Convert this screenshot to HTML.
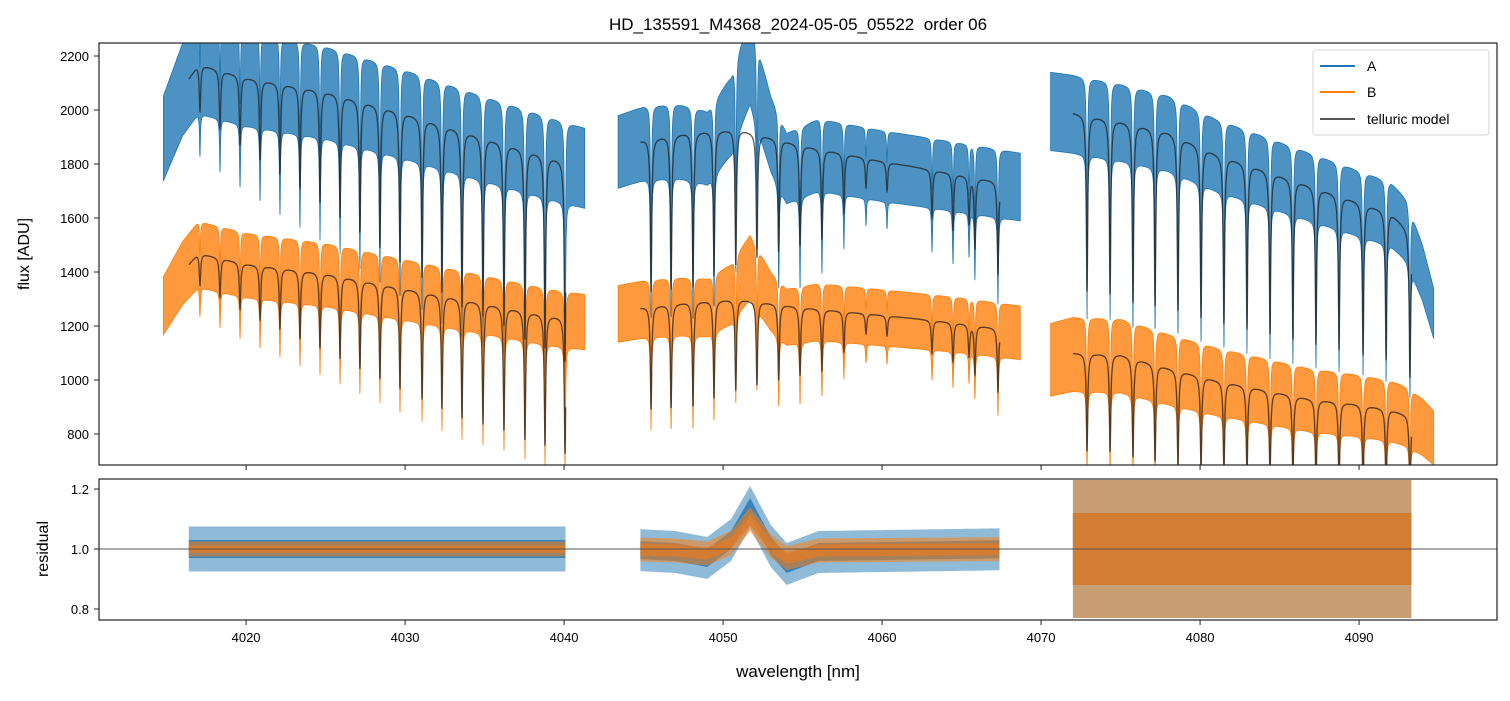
<!DOCTYPE html>
<html><head><meta charset="utf-8"><style>
body{margin:0;background:#fff;}
svg text{font-family:"Liberation Sans","DejaVu Sans",sans-serif;fill:#000;white-space:pre;}
</style></head><body>
<svg id="chart" width="1510" height="696" viewBox="0 0 1510 696" xmlns="http://www.w3.org/2000/svg">
<defs>
<clipPath id="clipTop"><rect x="99" y="43" width="1398" height="422"/></clipPath>
<clipPath id="clipBot"><rect x="99" y="479" width="1398" height="141"/></clipPath>
</defs>
<text x="798" y="30" font-size="17" text-anchor="middle" xml:space="preserve">HD_135591_M4368_2024-05-05_05522  order 06</text>
<g id="topPlot" clip-path="url(#clipTop)"></g>
<g id="botPlot" clip-path="url(#clipBot)"></g>
<g id="axesG"></g>
<text transform="translate(29,254) rotate(-90)" font-size="16" text-anchor="middle">flux [ADU]</text>
<text transform="translate(48,549) rotate(-90)" font-size="16" text-anchor="middle">residual</text>
<text x="798" y="677" font-size="17" text-anchor="middle">wavelength [nm]</text>
<g>
<rect x="1313" y="50" width="176" height="85" rx="3" fill="#fff" fill-opacity="0.8" stroke="#d6d6d6"/>
<line x1="1320" y1="66" x2="1355" y2="66" stroke="#1f77b4" stroke-width="2"/>
<text x="1367" y="71" font-size="14">A</text>
<line x1="1320" y1="92" x2="1355" y2="92" stroke="#ff7f0e" stroke-width="2"/>
<text x="1367" y="97" font-size="14">B</text>
<line x1="1320" y1="119" x2="1355" y2="119" stroke="#555" stroke-width="2"/>
<text x="1367" y="124" font-size="14">telluric model</text>
</g>
</svg>
<script>
// ---- data ----
const segData = [[4014.8,4041.3],[4043.4,4068.7],[4070.6,4094.7]];
const segModel = [[4016.4,4040.1],[4044.8,4067.4],[4072.0,4093.3]];
const contW = [
 [4014.8,4016,4017,4020,4025,4030,4035,4039,4041.3],
 [4043.4,4045,4048,4051,4055,4060,4065,4068.7],
 [4070.6,4072,4075,4078,4081,4084,4087,4090,4092,4093,4094,4094.7]];
const contA = [
 [1900,2080,2170,2120,2070,1990,1900,1830,1790],
 [1850,1890,1920,1930,1870,1810,1760,1720],
 [2000,1990,1960,1920,1840,1780,1720,1660,1620,1560,1400,1250]];
const contB = [
 [1280,1400,1470,1430,1395,1340,1285,1240,1220],
 [1250,1270,1290,1300,1270,1240,1210,1180],
 [1080,1100,1095,1045,1000,965,930,910,890,870,830,790]];
const noiseA = [0.08,0.07,0.07];
const noiseB = [0.08,0.08,0.12];
const lineW = [4017.1,4018.36,4019.62,4020.88,4022.13,4023.39,4024.65,4025.91,4027.16,4028.42,4029.68,4031.07,4032.32,4033.58,4034.9,4036.22,4037.54,4038.8,4040.06,
 4045.47,4046.73,4048.11,4049.43,4050.8,4052.13,4053.5,4054.84,4056.22,4057.6,4058.99,4060.31,4063.14,4064.46,4065.47,4065.84,4067.29,
 4072.89,4074.34,4075.78,4077.17,4078.61,4080.06,4081.5,4082.95,4084.4,4085.84,4087.29,4088.74,4090.25,4091.7,4093.2];
const lineD = [0.08,0.1,0.12,0.14,0.16,0.18,0.2,0.22,0.24,0.26,0.28,0.3,0.32,0.34,0.35,0.36,0.38,0.39,0.41,
 0.3,0.3,0.3,0.28,0.26,0.24,0.22,0.2,0.18,0.12,0.06,0.06,0.1,0.12,0.1,0.15,0.2,
 0.33,0.33,0.34,0.34,0.34,0.34,0.34,0.34,0.34,0.34,0.34,0.34,0.34,0.34,0.34];
const bumpW = [4043.4,4047,4049,4050.5,4051.7,4053,4054,4056,4068.7];
const bumpA = [1.0,0.99,0.97,1.03,1.14,1.01,0.95,0.99,1.0];
const bumpB = [1.0,0.995,0.985,1.02,1.1,1.01,0.97,0.995,1.0];
const resHalfA = [0.075,0.07,0.23];
const resCoreA = [0.03,0.03,0.12];
const resHalfB = [0.025,0.04,0.23];
const resCoreB = [0.012,0.02,0.12];
const yTicksTop = [800,1000,1200,1400,1600,1800,2000,2200];
const yTicksBot = [0.8,1.0,1.2];
const xTicks = [4020,4030,4040,4050,4060,4070,4080,4090];

// ---- scales ----
const xS = w => 99 + (w - 4010.75) * 15.9;
const yT = v => 56 + (2200 - v) * 0.27;
const yB = r => 549 - (r - 1) * 300;
const NS = 'http://www.w3.org/2000/svg';
function interp(xs, ys, x){
  if (x <= xs[0]) return ys[0];
  for (let i = 1; i < xs.length; i++) if (x <= xs[i]) { const t = (x - xs[i-1]) / (xs[i] - xs[i-1]); return ys[i-1] + t * (ys[i] - ys[i-1]); }
  return ys[ys.length - 1];
}
function trans(w, g){
  let f = 1;
  for (let i = 0; i < lineW.length; i++) { const u = (w - lineW[i]) / g; f *= 1 - lineD[i] / (1 + u * u); }
  return f;
}
function bump(s, w, arr){ return s === 1 ? interp(bumpW, arr, w) : 1; }
function mk(tag, parent){ const e = document.createElementNS(NS, tag); parent.appendChild(e); return e; }
const topG = document.getElementById('topPlot'), botG = document.getElementById('botPlot'), axesG = document.getElementById('axesG');
const step = 0.012;

function band(s, cont, noise, bArr, color, name){
  const up = [], lo = [];
  const [a, b] = segData[s];
  for (let w = a; w <= b + 1e-9; w += step) {
    const c = interp(contW[s], cont[s], w) * bump(s, w, bArr) * trans(w, 0.035);
    up.push(xS(w).toFixed(1) + ',' + yT(c * (1 + noise[s])).toFixed(1));
    lo.push(xS(w).toFixed(1) + ',' + yT(c * (1 - noise[s]) - 10).toFixed(1));
  }
  const p = mk('polygon', topG);
  
  
  p.setAttribute('points', up.concat(lo.reverse()).join(' '));
  p.setAttribute('fill', color); p.setAttribute('fill-opacity', '0.8');
  p.setAttribute('stroke', color); p.setAttribute('stroke-width', '0.8');
}
function model(s, cont, name){
  const pts = [];
  const [a, b] = segModel[s];
  for (let w = a; w <= b + 1e-9; w += step / 2) {
    pts.push(xS(w).toFixed(1) + ',' + yT(interp(contW[s], cont[s], w) * trans(w, 0.055)).toFixed(1));
  }
  const p = mk('polyline', topG);
  
  
  p.setAttribute('points', pts.join(' '));
  p.setAttribute('fill', 'none'); p.setAttribute('stroke', '#222'); p.setAttribute('stroke-opacity', '0.75'); p.setAttribute('stroke-width', '1.3');
}
function resBand(s, half, bArr, color, op, name){
  const up = [], lo = [];
  const [a, b] = segModel[s];
  for (let w = a; w <= b + 1e-9; w += step * 2) {
    const c = bump(s, w, bArr);
    up.push(xS(w).toFixed(1) + ',' + yB(c + half[s]).toFixed(1));
    lo.push(xS(w).toFixed(1) + ',' + yB(c - half[s]).toFixed(1));
  }
  const p = mk('polygon', botG);
  
  
  p.setAttribute('points', up.concat(lo.reverse()).join(' '));
  p.setAttribute('fill', color); p.setAttribute('fill-opacity', op);
}
for (let s = 0; s < 3; s++) {
  band(s, contA, noiseA, bumpA, '#1f77b4', 'spectrum-a-seg' + (s + 1));
  band(s, contB, noiseB, bumpB, '#ff7f0e', 'spectrum-b-seg' + (s + 1));
}
for (let s = 0; s < 3; s++) {
  model(s, contA, 'telluric-model-a-seg' + (s + 1));
  model(s, contB, 'telluric-model-b-seg' + (s + 1));
}
for (let s = 0; s < 3; s++) {
  resBand(s, resHalfA, bumpA, '#1f77b4', 0.5, 'residual-a-outer-seg' + (s + 1));
  resBand(s, resCoreA, bumpA, '#1f77b4', 0.8, 'residual-a-seg' + (s + 1));
  resBand(s, resHalfB, bumpB, '#ff7f0e', s === 2 ? 0.5 : 0.55, 'residual-b-outer-seg' + (s + 1));
  resBand(s, resCoreB, bumpB, '#e07b28', 0.8, 'residual-b-seg' + (s + 1));
}
const hl = mk('line', botG);


hl.setAttribute('x1', 99); hl.setAttribute('x2', 1497); hl.setAttribute('y1', yB(1)); hl.setAttribute('y2', yB(1));
hl.setAttribute('stroke', '#555'); hl.setAttribute('stroke-width', '0.9');

[[99,43,1398,422,'flux-axes-frame'],[99,479,1398,141,'residual-axes-frame']].forEach(r => {
  const e = mk('rect', axesG);
  
  
  e.setAttribute('x', r[0]); e.setAttribute('y', r[1]); e.setAttribute('width', r[2]); e.setAttribute('height', r[3]);
  e.setAttribute('fill', 'none'); e.setAttribute('stroke', '#222'); e.setAttribute('stroke-width', '1.2');
});
function tick(x1, y1, x2, y2){
  const t = mk('line', axesG);
  
  
  t.setAttribute('x1', x1); t.setAttribute('y1', y1); t.setAttribute('x2', x2); t.setAttribute('y2', y2);
  t.setAttribute('stroke', '#222'); t.setAttribute('stroke-width', '1');
}
function label(x, y, txt, anchor, name){
  const t = mk('text', axesG);
  
  
  t.setAttribute('x', x); t.setAttribute('y', y); t.setAttribute('font-size', '13'); t.setAttribute('text-anchor', anchor);
  t.textContent = txt;
}
yTicksTop.forEach(v => { const y = yT(v); tick(94, y, 99, y); label(89, y + 5, String(v), 'end', 'y-tick-label-flux'); });
yTicksBot.forEach(v => { const y = yB(v); tick(94, y, 99, y); label(89, y + 5, v.toFixed(1), 'end', 'y-tick-label-residual'); });
xTicks.forEach(v => { const x = xS(v); tick(x, 465, x, 470); tick(x, 620, x, 625); label(x, 642, String(v), 'middle', 'x-tick-label'); });
</script>
</body></html>
